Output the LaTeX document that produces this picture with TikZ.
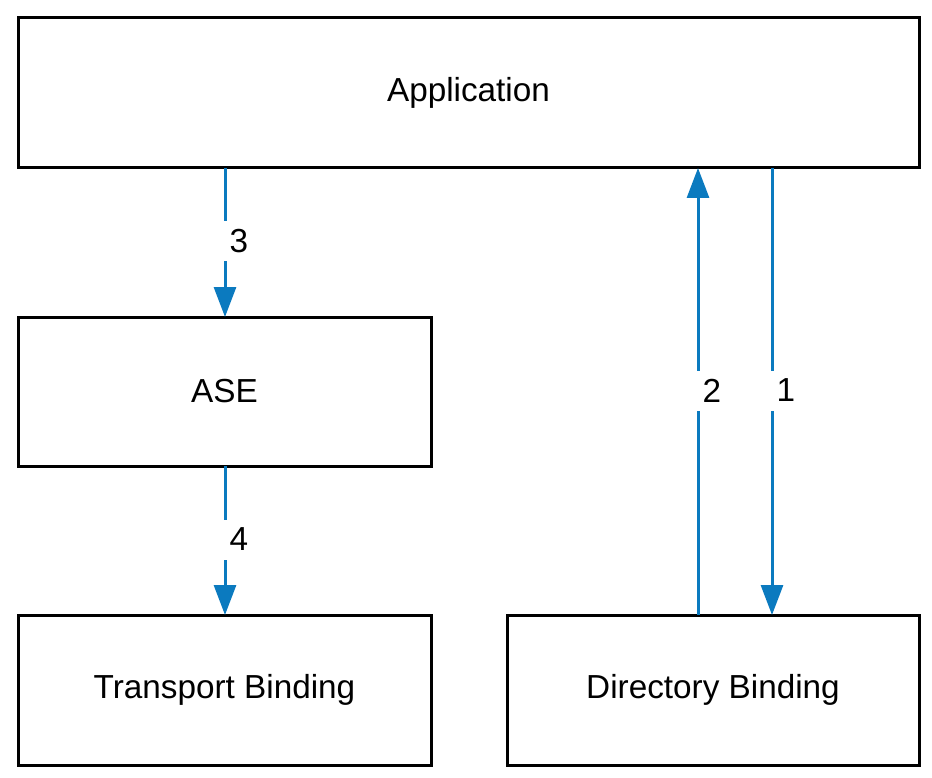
\documentclass[tikz,border=0pt]{standalone}
\usepackage{fontspec}
\setmainfont{Liberation Sans}
\usetikzlibrary{arrows.meta,calc}
\definecolor{lineblue}{RGB}{11,122,191}
\begin{document}
\begin{tikzpicture}[x=1pt,y=-1pt,
  box/.style={draw=black,line width=3pt,fill=white,inner sep=0pt,outer sep=0pt,
    font=\fontsize{33.3}{40}\selectfont},
  arr/.style={draw=lineblue,line width=3pt,-{Triangle[width=22pt,length=30pt]}},
  lbl/.style={fill=white,inner xsep=8pt,inner ysep=0pt,minimum height=40pt,
    font=\fontsize{33.3}{40}\selectfont,xshift=14pt,yshift=1pt}]
\useasboundingbox (0,0) rectangle (932,778);
\node[box,minimum width=901pt,minimum height=150pt] (app) at (468.5,93) {Application};
\node[box,minimum width=413pt,minimum height=149pt] (ase) at (224.5,391.5) {ASE};
\node[box,minimum width=413pt,minimum height=150pt] (tb) at (224.5,690) {Transport Binding};
\node[box,minimum width=412pt,minimum height=150pt] (db) at (713,690) {Directory Binding};
\coordinate (xa) at (225,0);
\coordinate (x2) at (698,0);
\coordinate (x1) at (772,0);
\draw[arr] (app.south -| xa) -- node[lbl]{3} (ase.north -| xa);
\draw[arr] (ase.south -| xa) -- node[lbl]{4} (tb.north -| xa);
\draw[arr] (db.north -| x2) -- node[lbl]{2} (app.south -| x2);
\draw[arr] (app.south -| x1) -- node[lbl]{1} (db.north -| x1);
\end{tikzpicture}
\end{document}
